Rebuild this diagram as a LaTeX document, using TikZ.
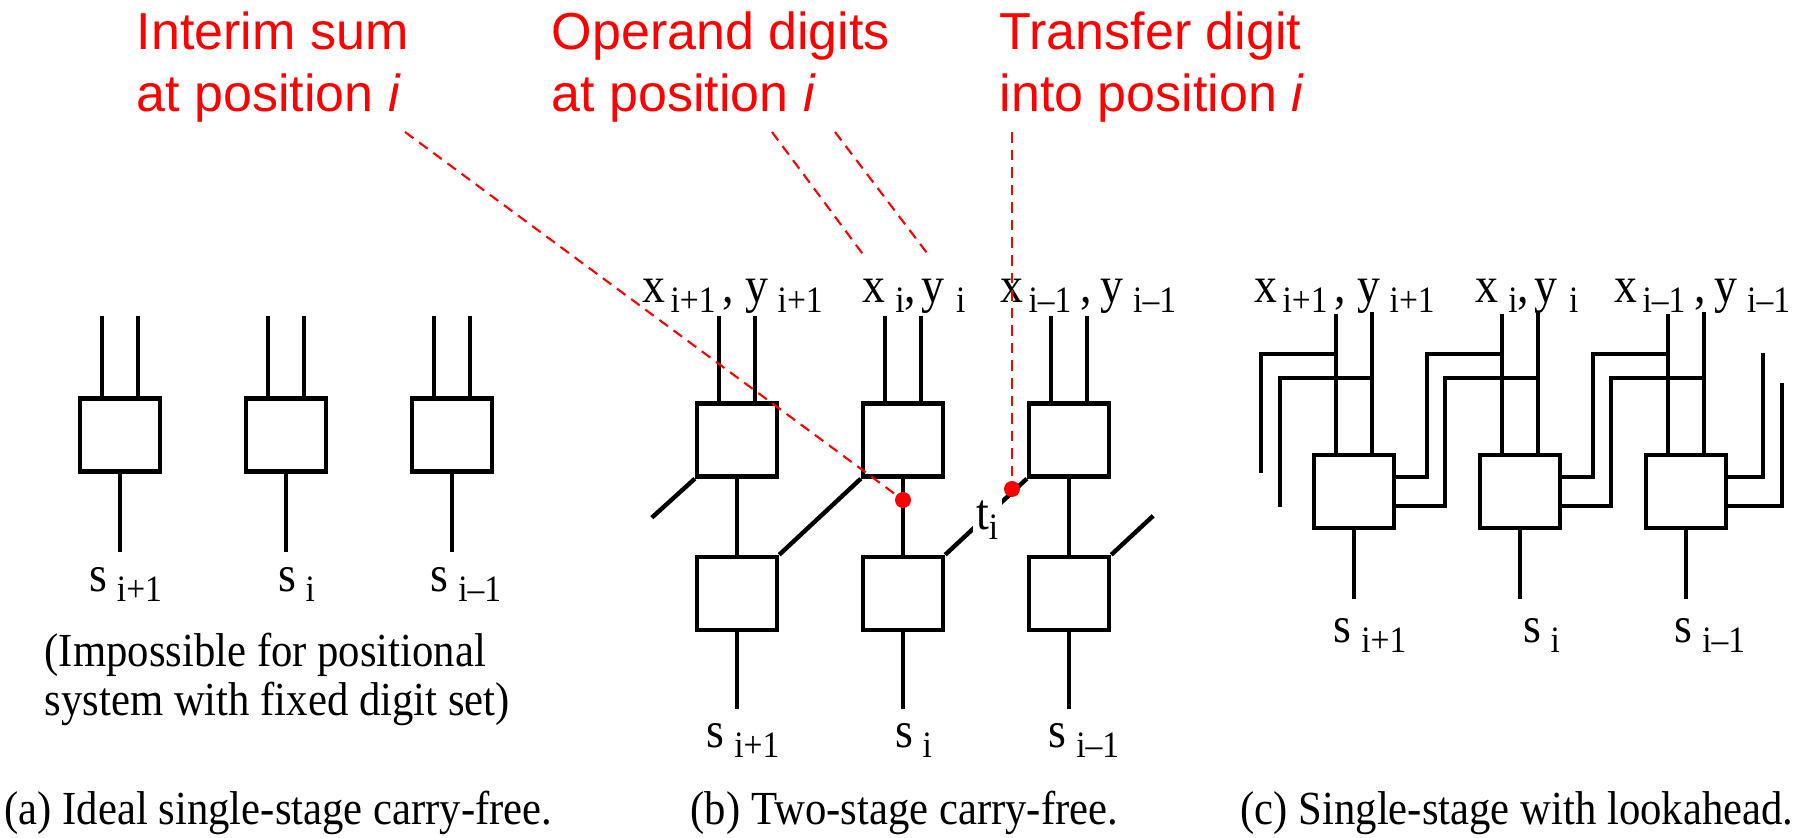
\documentclass[tikz,border=0pt]{standalone}
\usepackage{fontspec}
\setmainfont{Liberation Serif}[FakeStretch=0.9]
\newfontfamily\notefont{Liberation Sans}
\newcommand{\dsub}[1]{\raisebox{-2.6pt}{\fontsize{10.6pt}{11pt}\selectfont #1}}
\begin{document}
\begin{tikzpicture}[x=1cm,y=-1cm,
  cell/.style={draw,line width=1.25pt,minimum width=0.8cm,minimum height=0.73cm,inner sep=0pt},
  wire/.style={line width=1.25pt},
  lbl/.style={anchor=base west,inner sep=0pt,font=\fontsize{14.5pt}{16pt}\selectfont},
  txt/.style={anchor=base west,inner sep=0pt,font=\fontsize{13.5pt}{13.66pt}\selectfont},
  hint/.style={anchor=base west,inner sep=0pt,red,font=\notefont\fontsize{14.8pt}{17.6pt}\selectfont},
  pointer/.style={red,line width=0.6pt,dash pattern=on 3pt off 2pt},
  dot/.style={circle,fill=red,inner sep=0pt,minimum size=0.16cm}]
\useasboundingbox (0,0) rectangle (18.06,8.38);
% (a) ideal single-stage
\node[cell] (a1) at (1.20,4.35) {};
\node[cell] (a2) at (2.86,4.35) {};
\node[cell] (a3) at (4.52,4.35) {};
\draw[wire] ([xshift=-0.18cm]a1.north) -- ++(0,-0.8);
\draw[wire] ([xshift=0.18cm]a1.north) -- ++(0,-0.8);
\draw[wire] ([xshift=-0.18cm]a2.north) -- ++(0,-0.8);
\draw[wire] ([xshift=0.18cm]a2.north) -- ++(0,-0.8);
\draw[wire] ([xshift=-0.18cm]a3.north) -- ++(0,-0.8);
\draw[wire] ([xshift=0.18cm]a3.north) -- ++(0,-0.8);
\draw[wire] (a1.south) -- ++(0,0.78);
\draw[wire] (a2.south) -- ++(0,0.78);
\draw[wire] (a3.south) -- ++(0,0.78);
\node[lbl] (sa1) at (0.886,5.92) {s\hspace{2.8pt}\dsub{i+1}};
\node[lbl] (sa2) at (2.78,5.92) {s\hspace{2.6pt}\dsub{i}};
\node[lbl] (sa3) at (4.30,5.92) {s\hspace{2.8pt}\dsub{i--1}};
\node[txt] (imp) at (0.44,6.67) {\begin{tabular}[t]{@{}l@{}}(Impossible for positional\\system with fixed digit set)\end{tabular}};
\node[txt] (capa) at (0.04,8.25) {(a) Ideal single-stage carry-free.};
% (b) two-stage
\node[cell] (b1t) at (7.37,4.40) {};
\node[cell] (b2t) at (9.03,4.40) {};
\node[cell] (b3t) at (10.69,4.40) {};
\node[cell] (b1b) at (7.37,5.935) {};
\node[cell] (b2b) at (9.03,5.935) {};
\node[cell] (b3b) at (10.69,5.935) {};
\draw[wire] ([xshift=-0.18cm]b1t.north) -- ++(0,-0.855);
\draw[wire] ([xshift=0.18cm]b1t.north) -- ++(0,-0.855);
\draw[wire] ([xshift=-0.18cm]b2t.north) -- ++(0,-0.855);
\draw[wire] ([xshift=0.18cm]b2t.north) -- ++(0,-0.855);
\draw[wire] ([xshift=-0.18cm]b3t.north) -- ++(0,-0.855);
\draw[wire] ([xshift=0.18cm]b3t.north) -- ++(0,-0.855);
\draw[wire] (b1t.south) -- (b1b.north);
\draw[wire] (b2t.south) -- (b2b.north);
\draw[wire] (b3t.south) -- (b3b.north);
\draw[wire] (b1b.south) -- ++(0,0.77);
\draw[wire] (b2b.south) -- ++(0,0.77);
\draw[wire] (b3b.south) -- ++(0,0.77);
\draw[wire] (b1t.south west) -- ++(-0.43,0.39);
\draw[wire] (b2t.south west) -- (b1b.north east);
\draw[wire] (b3t.south west) -- (b2b.north east);
\draw[wire] (b3b.north east) -- ++(0.42,-0.39);
\node[lbl,fill=white,inner sep=1pt] (ti) at (9.72,5.30) {t\dsub{i}};
\node[lbl] (bx1) at (6.42,3.03) {x\hspace{1.4pt}\dsub{i+1}\hspace{2pt},\hspace{3.4pt}y\hspace{2.5pt}\dsub{i+1}};
\node[lbl] (bx2) at (8.62,3.03) {x\hspace{2.8pt}\dsub{i},\hspace{1.4pt}y\hspace{3.4pt}\dsub{i}};
\node[lbl] (bx3) at (10.00,3.03) {x\hspace{1.4pt}\dsub{i--1}\hspace{2.5pt},\hspace{2.5pt}y\hspace{2.8pt}\dsub{i--1}};
\node[lbl] (sb1) at (7.06,7.48) {s\hspace{2.8pt}\dsub{i+1}};
\node[lbl] (sb2) at (8.95,7.48) {s\hspace{2.6pt}\dsub{i}};
\node[lbl] (sb3) at (10.48,7.48) {s\hspace{2.8pt}\dsub{i--1}};
\node[txt] (capb) at (6.90,8.25) {(b) Two-stage carry-free.};
% (c) single-stage with lookahead
\node[cell] (c1) at (13.54,4.915) {};
\node[cell] (c2) at (15.20,4.915) {};
\node[cell] (c3) at (16.86,4.915) {};
\draw[wire] ([xshift=-0.18cm]c1.north) -- ++(0,-1.39);
\draw[wire] ([xshift=0.18cm]c1.north) -- ++(0,-1.41);
\draw[wire] ([xshift=-0.18cm]c2.north) -- ++(0,-1.39);
\draw[wire] ([xshift=0.18cm]c2.north) -- ++(0,-1.41);
\draw[wire] ([xshift=-0.18cm]c3.north) -- ++(0,-1.39);
\draw[wire] ([xshift=0.18cm]c3.north) -- ++(0,-1.41);
\draw[wire] (c1.south) -- ++(0,0.69);
\draw[wire] (c2.south) -- ++(0,0.69);
\draw[wire] (c3.south) -- ++(0,0.69);
\draw[wire] (13.36,3.54) -| (12.61,4.73);
\draw[wire] (13.72,3.78) -| (12.80,5.07);
\draw[wire] ([yshift=1.45mm]c1.east) -| (14.27,3.54) -- (15.02,3.54);
\draw[wire] ([yshift=-1.45mm]c1.east) -| (14.45,3.78) -- (15.38,3.78);
\draw[wire] ([yshift=1.45mm]c2.east) -| (15.93,3.54) -- (16.68,3.54);
\draw[wire] ([yshift=-1.45mm]c2.east) -| (16.11,3.78) -- (17.04,3.78);
\draw[wire] ([yshift=1.45mm]c3.east) -| (17.63,3.53);
\draw[wire] ([yshift=-1.45mm]c3.east) -| (17.82,3.83);
\node[lbl] (cx1) at (12.54,3.03) {x\hspace{1.4pt}\dsub{i+1}\hspace{2pt},\hspace{3.4pt}y\hspace{2.5pt}\dsub{i+1}};
\node[lbl] (cx2) at (14.75,3.03) {x\hspace{2.8pt}\dsub{i},\hspace{1.4pt}y\hspace{3.4pt}\dsub{i}};
\node[lbl] (cx3) at (16.14,3.03) {x\hspace{1.4pt}\dsub{i--1}\hspace{2.5pt},\hspace{2.5pt}y\hspace{2.8pt}\dsub{i--1}};
\node[lbl] (sc1) at (13.33,6.43) {s\hspace{2.8pt}\dsub{i+1}};
\node[lbl] (sc2) at (15.23,6.43) {s\hspace{2.6pt}\dsub{i}};
\node[lbl] (sc3) at (16.74,6.43) {s\hspace{2.8pt}\dsub{i--1}};
\node[txt] (capc) at (12.40,8.25) {(c) Single-stage with lookahead.};
% red notes
\node[hint] (interim) at (1.36,0.50) {\begin{tabular}[t]{@{}l@{}}Interim sum\\at position \textit{i}\end{tabular}};
\node[hint] (operand) at (5.51,0.50) {\begin{tabular}[t]{@{}l@{}}Operand digits\\at position \textit{i}\end{tabular}};
\node[hint] (transfer) at (9.99,0.50) {\begin{tabular}[t]{@{}l@{}}Transfer digit\\into position \textit{i}\end{tabular}};
\coordinate (pi) at (4.05,1.32);
\coordinate (po1) at (7.72,1.32);
\coordinate (po2) at (8.35,1.32);
\coordinate (pe1) at (8.65,2.57);
\coordinate (pe2) at (9.30,2.57);
\coordinate (pt) at (10.12,1.32);
\node[dot] (dsum) at (9.03,5.00) {};
\node[dot] (dtr) at (10.12,4.89) {};
\draw[pointer] (pi) -- (dsum);
\draw[pointer] (po1) -- (pe1);
\draw[pointer] (po2) -- (pe2);
\draw[pointer] (pt) -- (dtr);
\end{tikzpicture}
\end{document}
